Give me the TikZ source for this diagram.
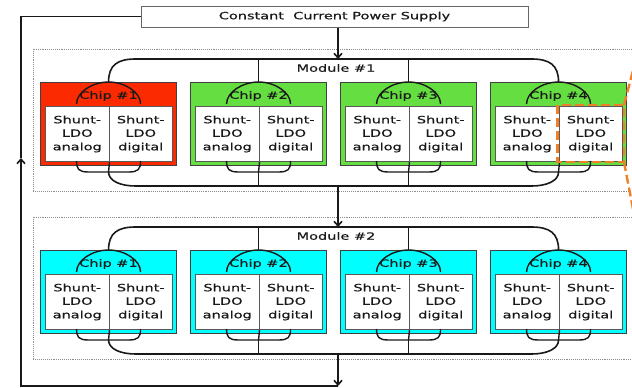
\documentclass[tikz,border=0pt]{standalone}
\usepackage{fontspec}
\setmainfont{DejaVu Sans}[FakeStretch=1.45,FakeBold=0.6]
\usetikzlibrary{arrows.meta,calc}
\definecolor{chipred}{RGB}{252,42,0}
\definecolor{chipgreen}{RGB}{100,222,64}
\definecolor{chipcyan}{RGB}{0,255,255}
\definecolor{callout}{RGB}{240,128,40}
\definecolor{ln}{RGB}{25,25,25}
\colorlet{col11}{chipred}
\colorlet{col12}{chipgreen}
\colorlet{col13}{chipgreen}
\colorlet{col14}{chipgreen}
\colorlet{col21}{chipcyan}
\colorlet{col22}{chipcyan}
\colorlet{col23}{chipcyan}
\colorlet{col24}{chipcyan}
\begin{document}
\begin{tikzpicture}[x=1pt,y=-1pt, font=\fontsize{10}{13.5}\selectfont, text=black!90,
  chipbox/.style={draw=black!75, line width=1.1pt, minimum width=136pt, minimum height=83pt, anchor=north west, inner sep=0pt},
  cell/.style={draw=black!65, fill=white, line width=1pt, minimum width=63.5pt, minimum height=55pt, anchor=north west, inner sep=0pt, align=center},
  bus/.style={draw=ln, line width=1.6pt},
  thinbus/.style={draw=ln, line width=1.4pt},
  modbox/.style={draw=black!45, densely dotted, line width=0.9pt},
  arr/.style={bus, -{Straight Barb[length=4.5pt,width=8pt]}},
  calloutline/.style={draw=callout, line width=2.4pt, dash pattern=on 9pt off 4pt}
  ]
\useasboundingbox (0,0) rectangle (632,388);
\begin{scope}
\clip (0,0) rectangle (632,388);
\foreach \m/\yo in {1/0,2/168}{
  \draw[modbox] (33,49+\yo) rectangle (650,191+\yo);
}
\end{scope}

\node[draw=black!60, line width=1pt, minimum width=387pt, minimum height=21pt, inner sep=0pt] (psu) at (334.5,16.5) {Constant\ \ Current Power Supply};

\foreach \m/\yo in {1/0,2/168}{
  \node (m\m lab) at (336,68+\yo) {Module \#\m};
  \foreach \i/\xl in {1/40,2/190,3/340,4/490}{
    \node[chipbox, fill=col\m\i] (m\m c\i) at (\xl,82+\yo) {};
    \node[cell] (m\m c\i a) at (\xl+5,106+\yo) {Shunt-\\LDO\\analog};
    \node[cell] (m\m c\i d) at (\xl+68.5,106+\yo) {Shunt-\\LDO\\digital};
    \node (m\m c\i t) at (\xl+68.5,96+\yo) {Chip \#\i};
    \coordinate (m\m c\i u) at ($(m\m c\i.north)+(0,90)$);
    % top arc around chip label
    \draw[thinbus] ($(m\m c\i.north)+(-32,22)$) .. controls +(0,-12) and +(-16,0) .. (m\m c\i.north)
        .. controls +(16,0) and +(0,-12) .. ($(m\m c\i.north)+(32,22)$);
    % bottom U
    \draw[thinbus] ($(m\m c\i u)+(-32,-11)$) .. controls +(0,8) and +(-10,0) .. ($(m\m c\i u)+(-20,0)$)
        -- ($(m\m c\i u)+(20,0)$) .. controls +(10,0) and +(0,8) .. ($(m\m c\i u)+(32,-11)$);
    \draw[thinbus] (m\m c\i a.south east) -- (m\m c\i u);
  }
  \coordinate (m\m tb) at ($(m\m c2.north)+(0,-23)$);
  \coordinate (m\m bb) at ($(m\m c2u)+(0,14)$);
  % top bus
  \draw[bus] (m\m c1.north) .. controls +(0,-17) and +(-18,0) .. ($(m\m c1.north)+(27,-23)$)
      -- ($(m\m c4.north)+(-27,-23)$) .. controls +(18,0) and +(0,-17) .. (m\m c4.north);
  \draw[bus] (m\m c2.north) -- (m\m tb);
  \draw[bus] (m\m c3.north) -- ($(m\m c3.north)+(0,-23)$);
  % bottom bus
  \draw[bus] (m\m c1u) .. controls +(0,9) and +(-15,0) .. ($(m\m c1u)+(27,14)$)
      -- ($(m\m c4u)+(-27,14)$) .. controls +(15,0) and +(0,9) .. (m\m c4u);
  \draw[bus] (m\m c2u) -- (m\m bb);
  \draw[bus] (m\m c3u) -- ($(m\m c3u)+(0,14)$);
}

% supply arrows
\coordinate (fb) at (338,386);
\coordinate (fbl) at (21,386);
\coordinate (fbm) at (21,158);
\coordinate (fbt) at (21,16.5);
\draw[arr] (psu.south -| fb) -- (fb |- m1tb);
\draw[arr] (fb |- m1bb) -- (fb |- m2tb);
\draw[arr] (fb |- m2bb) -- (fb);
\draw[arr] (fb) -- (fbl) -- (fbm);
\draw[bus] (fbm) -- (fbt) -- (psu.west);

% orange callout
\begin{scope}
\clip (0,0) rectangle (632,388);
\coordinate (cnw) at ($(m1c4d.north west)+(-1,-1)$);
\coordinate (cse) at ($(m1c4d.south east)+(1,0)$);
\draw[calloutline] (cnw) rectangle (cse);
\coordinate (ctop) at ($(cse |- cnw)+(17,-65)$);
\coordinate (cbot) at ($(cse)+(18,94)$);
\draw[calloutline] (cse |- cnw) -- (ctop);
\draw[calloutline] (cse) -- (cbot);
\end{scope}
\end{tikzpicture}
\end{document}
